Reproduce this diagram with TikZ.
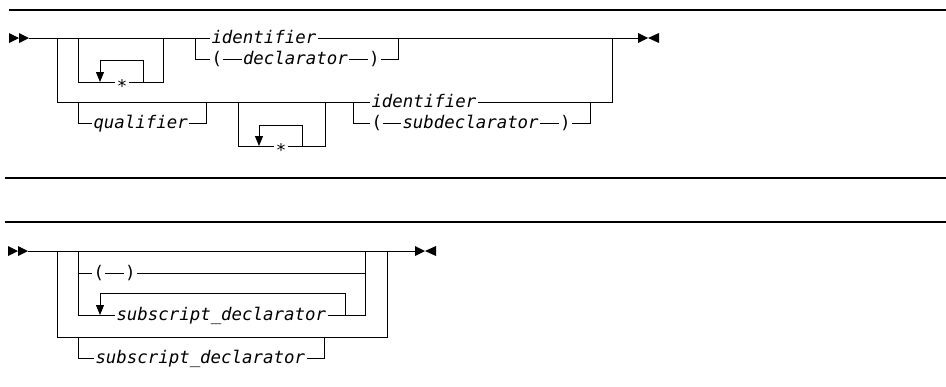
\documentclass[tikz,border=0pt]{standalone}
\usepackage{fontspec}
\newfontfamily\synfont{DejaVu Sans Mono}[ItalicFont={DejaVu Sans Mono Oblique}]
\usetikzlibrary{arrows.meta}

\tikzset{
  startmark/.pic={
    \fill (-20,-5) -- (-10,0) -- (-20,5) -- cycle;
    \fill (-10,-5) -- (0,0) -- (-10,5) -- cycle;
  },
  stopmark/.pic={
    \fill (0,-5) -- (10,0) -- (0,5) -- cycle;
    \fill (21,-5) -- (10,0) -- (21,5) -- cycle;
  }
}

\begin{document}
\begin{tikzpicture}[x=1pt, y=-1pt, line width=1pt,
    txt/.style={font={\synfont\fontsize{17.4pt}{20pt}\selectfont\itshape},
      inner sep=1pt, text height=13pt, text depth=2pt, anchor=west},
    paren/.style={txt, font={\synfont\fontsize{17.4pt}{20pt}\selectfont}},
    sep/.style={txt, anchor=center},
    backarrow/.style={-{Triangle[width=8pt,length=10pt]}},
    rule/.style={line width=1.6pt}]
    \useasboundingbox (0,0) rectangle (946,386);

    % Rules between the diagrams
    \draw[rule] (9,10) -- (946,10);
    \draw[rule] (5,178) -- (946,178);
    \draw[rule] (5,222) -- (946,222);

    % First diagram: main line and end marks
    \coordinate (s1) at (29,38);
    \coordinate (t1) at (638,38);
    \pic at (s1) {startmark};
    \pic at (t1) {stopmark};

    % Labels
    \node[txt] (id1) at (210,38) {identifier};
    \node[paren] (lp1) at (210,59) {(};
    \node[txt] (dec) at (241.5,59) {declarator};
    \node[paren] (rp1) at (367.5,59) {)};
    \node[sep] (star1) at (122,82) {\raisebox{-5pt}{*}};
    \node[txt] (qual) at (92,123) {qualifier};
    \node[sep] (star2) at (281,146) {\raisebox{-5pt}{*}};
    \node[txt] (id2) at (370,102) {identifier};
    \node[paren] (lp2) at (370,123) {(};
    \node[txt] (sub) at (401,123) {subdeclarator};
    \node[paren] (rp2) at (558.5,123) {)};

    % Junctions on the main line
    \coordinate (a1) at (57,38);
    \coordinate (b1) at (78,38);
    \coordinate (c1) at (163,38);
    \coordinate (d1) at (195,38);
    \coordinate (e1) at (398,38);
    \coordinate (f1) at (612,38);
    % Junctions on the second row
    \coordinate (q1) at (78,102);
    \coordinate (q2) at (206,102);
    \coordinate (g1) at (238,102);
    \coordinate (g2) at (325,102);
    \coordinate (h1) at (353,102);
    \coordinate (h2) at (590,102);
    % Repeat loops
    \coordinate (rep1) at (143,82);
    \coordinate (rep1top) at (100,60);
    \coordinate (rep1end) at (100,82);
    \coordinate (rep2) at (302,146);
    \coordinate (rep2top) at (259,125);
    \coordinate (rep2end) at (259,146);

    \draw (s1) -- (id1.west) (id1.east) -- (t1);
    \draw (a1) |- (id2.west) (id2.east) -| (f1);
    \draw (b1) |- (star1.west) (star1.east) -| (c1);
    \draw[backarrow] (rep1) |- (rep1top) -- (rep1end);
    \draw (d1) |- (lp1.west) (lp1.east) -- (dec.west) (dec.east) -- (rp1.west) (rp1.east) -| (e1);
    \draw (q1) |- (qual.west) (qual.east) -| (q2);
    \draw (g1) |- (star2.west) (star2.east) -| (g2);
    \draw[backarrow] (rep2) |- (rep2top) -- (rep2end);
    \draw (h1) |- (lp2.west) (lp2.east) -- (sub.west) (sub.east) -- (rp2.west) (rp2.east) -| (h2);

    % Second diagram
    \coordinate (s2) at (28,251);
    \coordinate (t2) at (415,251);
    \pic at (s2) {startmark};
    \pic at (t2) {stopmark};

    \node[paren] (lp3) at (92,273) {(};
    \node[paren] (rp3) at (123.5,273) {)};
    \node[txt] (sd1) at (115,315) {subscript\_declarator};
    \node[txt] (sd2) at (94,358) {subscript\_declarator};

    \coordinate (u1) at (57,251);
    \coordinate (u2) at (387,251);
    \coordinate (u3) at (387,337);
    \coordinate (v1) at (78,337);
    \coordinate (v2) at (324,337);
    \coordinate (w1) at (78,251);
    \coordinate (w2) at (365,251);
    \coordinate (rep3) at (345,315);
    \coordinate (rep3top) at (100,293);
    \coordinate (rep3end) at (100,315);

    \draw (s2) -- (t2);
    \draw (u1) |- (u3) -- (u2);
    \draw (v1) |- (sd2.west) (sd2.east) -| (v2);
    \draw (w1) |- (sd1.west) (sd1.east) -| (w2);
    \draw (w1) |- (lp3.west) (lp3.east) -- (rp3.west) (rp3.east) -- (rp3.east -| w2);
    \draw[backarrow] (rep3) |- (rep3top) -- (rep3end);
\end{tikzpicture}
\end{document}
